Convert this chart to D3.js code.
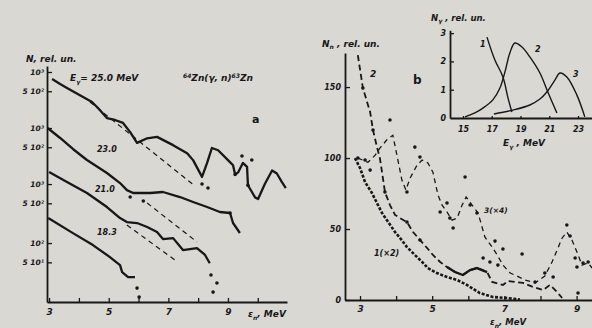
<!DOCTYPE html>
<html><head><meta charset="utf-8">
<script src="https://cdn.jsdelivr.net/npm/d3@7"></script>
<style>
html,body{margin:0;padding:0;background:#dad8d3;}
svg{display:block;}
text{font-family:"DejaVu Sans",Verdana,sans-serif;font-style:italic;font-weight:bold;fill:#171717;}
</style></head><body>
<svg id="c" width="592" height="328"></svg>
<script>
// ---------- DATA (panel a: E_n [MeV], N [rel. un.], each curve in its own units) ----------
const curveNamesA = ["25.0", "23.0", "21.0", "18.3"];
const curveShiftA = [47.0, 6.27, 0.835, 1.0];           // vertical stacking factors of the figure
const tickValsA = [[1000, 500], [1000, 500], [1000, 500], [100, 50]];
const tickLabsA = [["10³", "5 10²"], ["10³", "5 10²"], ["10³", "5 10²"], ["10²", "5 10¹"]];
const energyTicksA = [3, 4, 5, 6, 7, 8, 9, 10];

const curve25 = [[3.10,778],[3.37,649],[3.60,562],[4.14,407],[4.44,340],[4.64,274],[4.94,191],[5.21,178],[5.48,160],[5.72,115],[5.95,78],[6.29,92],[6.62,97],[7.16,72],[7.63,54],[7.83,42],[8.13,23],[8.30,38],[8.46,65],[8.67,60],[9.00,42],[9.17,35],[9.24,25],[9.34,27],[9.50,38],[9.64,33],[9.67,17],[9.91,11],[10.01,10.4],[10.24,18],[10.48,29],[10.64,26],[10.81,19],[10.94,15.4]];
const dots25 = [[8.13,17.8],[8.33,15.4],[9.47,48.7],[9.80,42.2],[9.24,25],[9.67,17]];
const dash25 = [[4.37,340],[7.89,16.6]];

const curve23 = [[2.95,1000],[3.37,698],[3.80,470],[4.14,352],[4.27,316],[4.94,198],[5.38,138],[5.61,107],[5.82,96.5],[6.39,96.5],[6.82,100],[7.39,83.5],[7.83,69.8],[8.30,58.3],[8.73,48.7],[9.07,47],[9.17,32.8],[9.40,22.9]];
const dots23 = [[5.72,83.5],[6.16,72.3],[9.07,47]];
const dash23 = [[6.29,67.3],[7.96,16.6]];

const curve21 = [[3.0,1540],[3.60,1074],[4.27,723],[4.94,437],[5.38,294],[5.61,255],[5.95,246],[6.29,213],[6.62,178],[6.82,138],[7.16,143],[7.49,93],[7.96,100],[8.23,78],[8.39,58]];
const dots21 = [[8.43,37.9],[8.63,28.4],[8.50,20.5]];
const dash21 = [[5.61,229],[7.22,65]];

const curve18 = [[2.97,246],[3.80,143],[4.47,93],[5.04,60.4],[5.38,45.3],[5.45,35.2],[5.65,29.4],[5.88,29.4]];
const dots18 = [[5.95,19.8],[6.02,14.3]];

// ---------- DATA (panel b: E_n [MeV], N_n [rel. un.]) ----------
const energyTicksB = [3, 4, 5, 6, 7, 8, 9];
const countTicksB = [0, 50, 100, 150];
const curve1B = [[2.86,100],[3.0,93],[3.14,83.1],[3.33,75.4],[3.47,68.3],[3.61,61.3],[3.78,54.9],[3.97,47.9],[4.11,43.7],[4.30,37.3],[4.52,31.7],[4.72,26.8],[4.88,22.5],[5.13,19.0],[5.41,16.2],[5.69,14.1],[5.96,10.6],[6.32,4.9],[6.68,2.1],[7.07,1.4],[7.43,0.3]];
const curve2B = [[2.94,172.5],[3.08,149.3],[3.28,132.4],[3.36,119.7],[3.47,107.7],[3.55,100],[3.61,90.1],[3.69,76.1],[3.83,66.9],[3.97,59.9],[4.11,57.7],[4.30,54.9],[4.47,47.9],[4.66,42.3],[4.86,36.6],[5.02,31.7],[5.22,26.8],[5.41,23.2],[5.63,19.7],[5.85,17.6],[6.05,21.1],[6.24,22.5],[6.52,19.7],[6.66,12.7],[6.96,10.6],[7.10,13.4],[7.52,12.0],[7.79,9.2],[8.07,7.0],[8.26,10.6],[8.46,5.6],[8.60,1.4]];
const dots2B = [[3.08,149.3],[3.36,119.7],[3.69,76.1],[4.30,54.9],[4.66,42.3]];
const curve3B = [[2.94,100],[3.22,97],[3.42,102],[3.55,107],[3.75,113],[3.91,116],[4.05,98.6],[4.16,84.5],[4.27,77.5],[4.39,86],[4.58,95],[4.72,98.6],[4.88,96.5],[5.02,90],[5.16,74],[5.27,67],[5.41,62],[5.55,56.3],[5.69,57.7],[5.83,67],[5.94,72.5],[6.10,67],[6.27,61.3],[6.35,54.2],[6.46,44.4],[6.66,37.3],[6.80,31.7],[6.96,24.6],[7.16,19.0],[7.35,16.9],[7.57,14.1],[7.85,12.0],[8.12,16.9],[8.32,26.8],[8.46,35.2],[8.60,43.7],[8.73,47.9],[8.87,42.3],[9.01,33.8],[9.15,24.6],[9.32,26.1],[9.43,22.5]];
const dots3B = [[3.83,126.8],[3.14,98.6],[3.28,91.5],[2.94,100],[4.52,107.7],[4.66,100.7],[4.30,76.1],[5.41,68.3],[5.22,62.0],[5.49,57.7],[5.58,50.7],[5.91,86.6],[6.05,66.9],[6.24,61.3],[6.74,41.5],[6.96,35.9],[6.41,29.6],[6.60,26.8],[6.82,24.6],[7.49,32.4],[7.85,12.7],[8.12,19.0],[8.35,16.2],[8.73,52.8],[8.82,45.1],[8.96,29.6],[9.01,23.2],[9.18,26.1],[9.32,26.8],[9.04,4.9]];

// ---------- DATA (inset: E_gamma [MeV], N_gamma [rel. un.]) ----------
const gammaTicksX = [15, 17, 19, 21, 23];
const gammaTicksY = [0, 1, 2, 3];
const gamma1 = [[16.67,2.86],[17.22,2.05],[17.78,1.45],[18.13,0.71],[18.40,0.21]];
const gamma2 = [[15.14,0.04],[15.83,0.18],[16.39,0.35],[17.08,0.64],[17.57,1.06],[17.92,1.63],[18.26,2.30],[18.61,2.65],[19.10,2.51],[19.65,2.16],[20.35,1.59],[20.90,0.92],[21.53,0.18]];
const gamma3 = [[17.15,0.14],[18.47,0.28],[19.65,0.46],[20.35,0.67],[20.83,0.92],[21.39,1.34],[21.74,1.59],[22.22,1.45],[22.92,0.81],[23.47,0.04]];

// ---------- DRAWING ----------
const ink = "#171717";
const svg = d3.select("#c");

function styleAxis(g, fs) {
  g.select(".domain").attr("stroke", ink).attr("stroke-width", 1.8);
  g.selectAll(".tick line").attr("stroke", ink).attr("stroke-width", 1.3);
  g.selectAll(".tick text").attr("fill", ink).style("font-size", fs + "px")
    .style("font-family", '"DejaVu Sans",sans-serif');
}
function sub(t, main, s, fs) {
  t.text(main);
  t.append("tspan").attr("dy", 2.5).style("font-size", "6px").text(s);
  t.append("tspan").attr("dy", -2.5).style("font-size", fs + "px");
  return t;
}

// ===== Panel a =====
const xA = d3.scaleLinear().domain([2.93, 10.98]).range([47, 287]);
const yA = d3.scaleLog().domain([12, 58300]).range([302, 66]);

const gxA = svg.append("g").attr("transform", "translate(0,302)")
  .call(d3.axisBottom(xA).tickValues(energyTicksA).tickSize(-4).tickSizeOuter(0).tickPadding(7)
    .tickFormat(d => d % 2 ? d : ""));
styleAxis(gxA, 9);

const yTickVals = [], yTickLabs = [];
tickValsA.forEach((vals, i) => vals.forEach((v, j) => { yTickVals.push(v * curveShiftA[i]); yTickLabs.push(tickLabsA[i][j]); }));
const gyA = svg.append("g").attr("transform", "translate(47,0)")
  .call(d3.axisLeft(yA).tickValues(yTickVals).tickSize(-5).tickSizeOuter(0).tickPadding(3)
    .tickFormat((d, i) => yTickLabs[i]));
styleAxis(gyA, 7.5);

const curvesA = [curve25, curve23, curve21, curve18];
const dotsA = [dots25, dots23, dots21, dots18];
const dashesA = [dash25, dash23, dash21, null];
curvesA.forEach((c, i) => {
  const k = curveShiftA[i];
  const line = d3.line().x(d => xA(d[0])).y(d => yA(d[1] * k));
  svg.append("path").attr("d", line(c)).attr("fill", "none").attr("stroke", ink)
    .attr("stroke-width", 2.3).attr("stroke-linejoin", "round");
  if (dashesA[i]) svg.append("path").attr("d", line(dashesA[i])).attr("fill", "none")
    .attr("stroke", ink).attr("stroke-width", 1.2).attr("stroke-dasharray", "5,4");
  svg.selectAll(null).data(dotsA[i]).enter().append("circle")
    .attr("cx", d => xA(d[0])).attr("cy", d => yA(d[1] * k)).attr("r", 1.8).attr("fill", ink);
});

// texts panel a
svg.append("text").attr("x", 26).attr("y", 62).style("font-size", "9px").text("N, rel. un.");
sub(svg.append("text").attr("x", 70).attr("y", 81).style("font-size", "9px"), "E", "γ", 9)
  .select("tspan:last-child").text("= 25.0 MeV");
const zn = svg.append("text").attr("x", 183).attr("y", 81).style("font-size", "9px");
zn.append("tspan").attr("dy", -3).style("font-size", "6px").text("64");
zn.append("tspan").attr("dy", 3).text("Zn(γ, n)");
zn.append("tspan").attr("dy", -3).style("font-size", "6px").text("63");
zn.append("tspan").attr("dy", 3).text("Zn");
svg.append("text").attr("x", 252).attr("y", 123).style("font-size", "11px").style("font-style", "normal").text("a");
[["23.0", 97, 152], ["21.0", 95, 192], ["18.3", 97, 235]].forEach(t =>
  svg.append("text").attr("x", t[1]).attr("y", t[2]).style("font-size", "8px").text(t[0]));
sub(svg.append("text").attr("x", 248).attr("y", 317).style("font-size", "9px"), "ε", "n", 9)
  .select("tspan:last-child").text(", MeV");

// ===== Panel b =====
const xB = d3.scaleLinear().domain([2.584, 9.427]).range([345, 592]);
const yB = d3.scaleLinear().domain([0, 174]).range([300, 53]);
const gxB = svg.append("g").attr("transform", "translate(0,300)")
  .call(d3.axisBottom(xB).tickValues(energyTicksB).tickSize(-4).tickSizeOuter(0).tickPadding(6)
    .tickFormat(d => d % 2 ? d : ""));
styleAxis(gxB, 9);
const gyB = svg.append("g").attr("transform", "translate(345,0)")
  .call(d3.axisLeft(yB).tickValues(countTicksB).tickSize(-5).tickSizeOuter(0).tickPadding(4));
styleAxis(gyB, 8);

const lineB = d3.line().x(d => xB(d[0])).y(d => yB(d[1]));
svg.append("path").attr("d", lineB(curve1B)).attr("fill", "none").attr("stroke", ink)
  .attr("stroke-width", 2.6).attr("stroke-dasharray", "3,1.6");
svg.append("path").attr("d", lineB(curve2B)).attr("fill", "none").attr("stroke", ink)
  .attr("stroke-width", 1.8).attr("stroke-dasharray", "6,3.5");
svg.append("path").attr("d", lineB(curve2B.filter(d => d[0] >= 5.3 && d[0] <= 6.6))).attr("fill", "none")
  .attr("stroke", ink).attr("stroke-width", 2.4);
svg.append("path").attr("d", lineB(curve3B)).attr("fill", "none").attr("stroke", ink)
  .attr("stroke-width", 1.3).attr("stroke-dasharray", "5,4");
svg.selectAll(null).data(dots2B.concat(dots3B)).enter().append("circle")
  .attr("cx", d => xB(d[0])).attr("cy", d => yB(d[1])).attr("r", 1.8).attr("fill", ink);

const nn = svg.append("text").attr("x", 322).attr("y", 47).style("font-size", "9px");
nn.text("N"); nn.append("tspan").attr("dy", 2).style("font-size", "6px").text("n");
nn.append("tspan").attr("dy", -2).text(" , rel. un.");
svg.append("text").attr("x", 370).attr("y", 77).style("font-size", "9px").text("2");
svg.append("text").attr("x", 413).attr("y", 84).style("font-size", "12px").style("font-style", "normal").text("b");
svg.append("text").attr("x", 374).attr("y", 256).style("font-size", "8px").text("1(×2)");
svg.append("text").attr("x", 484).attr("y", 213).style("font-size", "7.5px").text("3(×4)");
sub(svg.append("text").attr("x", 490).attr("y", 325).style("font-size", "8.5px"), "ε", "n", 8.5)
  .select("tspan:last-child").text(", MeV");

// ===== Inset =====
const xI = d3.scaleLinear().domain([14.1, 23.97]).range([450, 592]);
const yI = d3.scaleLinear().domain([0, 3.1]).range([118, 30.3]);
const gxI = svg.append("g").attr("transform", "translate(0,118)")
  .call(d3.axisBottom(xI).tickValues(gammaTicksX).tickSize(-2).tickSizeOuter(0).tickPadding(8)
    .tickFormat(d3.format("d")));
styleAxis(gxI, 8);
const gyI = svg.append("g").attr("transform", "translate(450,0)")
  .call(d3.axisLeft(yI).tickValues(gammaTicksY).tickSize(-4).tickSizeOuter(0).tickPadding(4)
    .tickFormat(d3.format("d")));
styleAxis(gyI, 8);
gyI.selectAll(".tick").filter(d => d === 0).select("line").remove();

const lineI = d3.line().x(d => xI(d[0])).y(d => yI(d[1])).curve(d3.curveCatmullRom);
[gamma1, gamma2, gamma3].forEach(g => svg.append("path").attr("d", lineI(g)).attr("fill", "none")
  .attr("stroke", ink).attr("stroke-width", 1.4));
const ng = svg.append("text").attr("x", 431).attr("y", 21).style("font-size", "8.5px");
ng.text("N"); ng.append("tspan").attr("dy", 2).style("font-size", "6px").text("γ");
ng.append("tspan").attr("dy", -2).text(" , rel. un.");
[["1", 480, 47], ["2", 535, 52], ["3", 573, 77]].forEach(t =>
  svg.append("text").attr("x", t[1]).attr("y", t[2]).style("font-size", "8px").text(t[0]));
sub(svg.append("text").attr("x", 503).attr("y", 146).style("font-size", "9px"), "E", "γ", 9)
  .select("tspan:last-child").text(" , MeV");
</script></body></html>
